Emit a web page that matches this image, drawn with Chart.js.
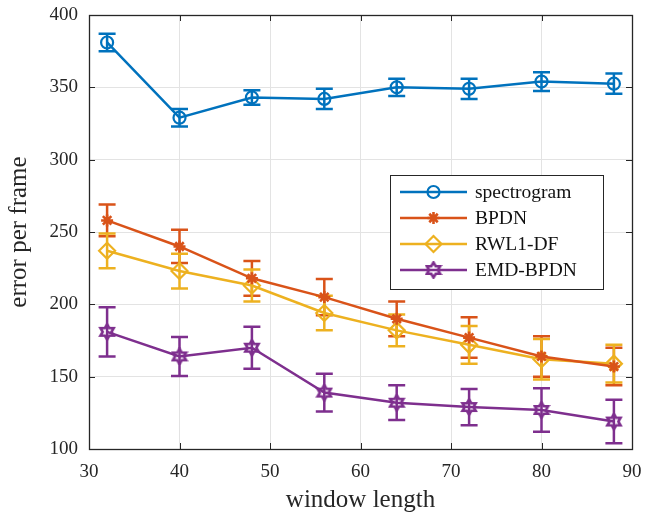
<!DOCTYPE html>
<html><head><meta charset="utf-8">
<script src="https://cdn.jsdelivr.net/npm/chart.js@4/dist/chart.umd.min.js"></script>
<style>html,body{margin:0;padding:0;background:#fff}#wrap{width:653px;height:519px}</style>
</head><body><div id="wrap"><canvas id="c" width="653" height="519"></canvas></div>
<script>
const windowLengths = [32, 40, 48, 56, 64, 72, 80, 88];
const seriesNames = ['spectrogram', 'BPDN', 'RWL1-DF', 'EMD-BPDN'];
const spectrogram = [381, 329, 343, 342, 350, 349, 354, 352.5];
const spectrogramErr = [6, 6, 5, 7, 6, 7, 6.5, 7];
const bpdn = [258, 240, 218, 205, 190, 177, 164, 157];
const bpdnErr = [11, 11.5, 12, 12.5, 12, 14, 14, 13];
const rwl1df = [237, 223, 213, 194, 182, 172, 162, 159];
const rwl1dfErr = [12, 12, 11, 12, 11, 13, 14, 13];
const emdBpdn = [181, 164, 170, 139, 132, 129, 127, 119];
const emdBpdnErr = [17, 13.5, 14.5, 13, 12, 12.5, 15, 15];
const xTicks = [30, 40, 50, 60, 70, 80, 90];
const yTicks = [100, 150, 200, 250, 300, 350, 400];

const colors = ['#0072BD', '#D95319', '#EDB120', '#7E2F8E'];
const FONT = "'Liberation Serif', 'DejaVu Serif', serif";
const AX = '#262626';

function hexagram(color) {
  const c = document.createElement('canvas');
  c.width = 18; c.height = 18;
  const g = c.getContext('2d');
  g.strokeStyle = color; g.lineWidth = 2.6; g.lineJoin = 'miter';
  const cx = 9, cy = 9, R = 7.6, r = R / Math.sqrt(3);
  g.beginPath();
  for (let i = 0; i < 12; i++) {
    const a = -Math.PI / 2 + i * Math.PI / 6;
    const rad = i % 2 === 0 ? R : r;
    const x = cx + rad * Math.cos(a), y = cy + rad * Math.sin(a);
    if (i === 0) g.moveTo(x, y); else g.lineTo(x, y);
  }
  g.closePath(); g.stroke();
  return c;
}

const vals = [spectrogram, bpdn, rwl1df, emdBpdn];
const errs = [spectrogramErr, bpdnErr, rwl1dfErr, emdBpdnErr];
const styles = [
  {pointStyle: 'circle', pointRadius: 6},
  {pointStyle: 'star', pointRadius: 6},
  {pointStyle: 'rectRot', pointRadius: 8},
  {pointStyle: hexagram(colors[3]), pointRadius: 9}
];

const datasets = vals.map((v, i) => ({
  label: seriesNames[i],
  data: windowLengths.map((x, j) => ({x: x, y: v[j]})),
  errors: errs[i],
  borderColor: colors[i],
  backgroundColor: colors[i],
  pointBackgroundColor: 'rgba(255,255,255,0)',
  pointBorderColor: colors[i],
  pointBorderWidth: i === 1 ? 2.6 : 2.2,
  pointStyle: styles[i].pointStyle,
  pointRadius: styles[i].pointRadius,
  borderWidth: 2.5,
  tension: 0,
  fill: false
}));

const errorBars = {
  id: 'errorBars',
  beforeDatasetsDraw(chart) {
    const ctx = chart.ctx, ys = chart.scales.y;
    chart.data.datasets.forEach((ds, i) => {
      const meta = chart.getDatasetMeta(i);
      ctx.save();
      ctx.strokeStyle = ds.borderColor; ctx.lineWidth = 2.5;
      meta.data.forEach((pt, j) => {
        const v = ds.data[j].y, e = ds.errors[j];
        const yt = ys.getPixelForValue(v + e), yb = ys.getPixelForValue(v - e);
        const x = pt.x, w = 8.5;
        ctx.beginPath();
        ctx.moveTo(x, yt); ctx.lineTo(x, yb);
        ctx.moveTo(x - w, yt); ctx.lineTo(x + w, yt);
        ctx.moveTo(x - w, yb); ctx.lineTo(x + w, yb);
        ctx.stroke();
      });
      ctx.restore();
    });
  }
};

const frame = {
  id: 'frame',
  afterDraw(chart) {
    const ctx = chart.ctx, a = chart.chartArea, xs = chart.scales.x, ys = chart.scales.y;
    ctx.save();
    ctx.strokeStyle = AX; ctx.lineWidth = 1;
    ctx.beginPath();
    const L = 6;
    xTicks.forEach(t => {
      const x = Math.round(xs.getPixelForValue(t)) + 0.5;
      ctx.moveTo(x, a.bottom); ctx.lineTo(x, a.bottom - L);
      ctx.moveTo(x, a.top); ctx.lineTo(x, a.top + L);
    });
    yTicks.forEach(t => {
      const y = Math.round(ys.getPixelForValue(t)) + 0.5;
      ctx.moveTo(a.left, y); ctx.lineTo(a.left + L, y);
      ctx.moveTo(a.right, y); ctx.lineTo(a.right - L, y);
    });
    ctx.stroke();
    ctx.lineWidth = 1.3;
    ctx.strokeRect(Math.round(a.left) + 0.5, Math.round(a.top) + 0.5, Math.round(a.right - a.left), Math.round(a.bottom - a.top));
    ctx.restore();

    // legend
    ctx.save();
    const bx = 390.5, by = 175.5, bw = 213, bh = 114;
    ctx.fillStyle = '#fff'; ctx.fillRect(bx, by, bw, bh);
    ctx.strokeStyle = AX; ctx.lineWidth = 1; ctx.strokeRect(bx, by, bw, bh);
    ctx.font = '19.5px ' + FONT; ctx.textBaseline = 'middle'; ctx.fillStyle = '#000';
    chart.data.datasets.forEach((ds, i) => {
      const y = 192 + i * 26;
      ctx.strokeStyle = ds.borderColor; ctx.lineWidth = 2.5;
      ctx.beginPath(); ctx.moveTo(400, y); ctx.lineTo(467, y); ctx.stroke();
      ctx.fillStyle = 'rgba(255,255,255,0)'; ctx.strokeStyle = ds.borderColor; ctx.lineWidth = ds.pointBorderWidth;
      Chart.helpers.drawPoint(ctx, {pointStyle: ds.pointStyle, radius: ds.pointRadius, rotation: 0, borderWidth: ds.pointBorderWidth}, 433.5, y);
      ctx.fillStyle = '#111';
      ctx.fillText(ds.label, 475, y + 1);
    });
    ctx.restore();
  }
};

new Chart(document.getElementById('c'), {
  type: 'line',
  data: {datasets},
  plugins: [errorBars, frame],
  options: {
    responsive: false,
    animation: false,
    layout: {padding: {top: 15, right: 21, left: 0, bottom: 0}},
    plugins: {legend: {display: false}, tooltip: {enabled: false}},
    scales: {
      x: {
        type: 'linear', min: 30, max: 90,
        afterBuildTicks: s => { s.ticks = xTicks.map(v => ({value: v})); },
        afterFit: s => { s.height = 70; s.paddingLeft = 0; s.paddingRight = 0; },
        grid: {color: '#e3e3e3', drawTicks: false, lineWidth: 1},
        border: {display: false},
        ticks: {color: AX, font: {family: FONT, size: 19}, padding: 12, maxRotation: 0},
        title: {display: true, text: 'window length', color: AX, font: {family: FONT, size: 25}, padding: {top: 0, bottom: 4}}
      },
      y: {
        type: 'linear', min: 100, max: 400,
        afterBuildTicks: s => { s.ticks = yTicks.map(v => ({value: v})); },
        afterFit: s => { s.width = 89; s.paddingTop = 0; s.paddingBottom = 0; },
        grid: {color: '#e3e3e3', drawTicks: false, lineWidth: 1},
        border: {display: false},
        ticks: {color: AX, font: {family: FONT, size: 19}, padding: 11},
        title: {display: true, text: 'error per frame', color: AX, font: {family: FONT, size: 25}, padding: {top: 4, bottom: 0}}
      }
    }
  }
});
</script></body></html>
